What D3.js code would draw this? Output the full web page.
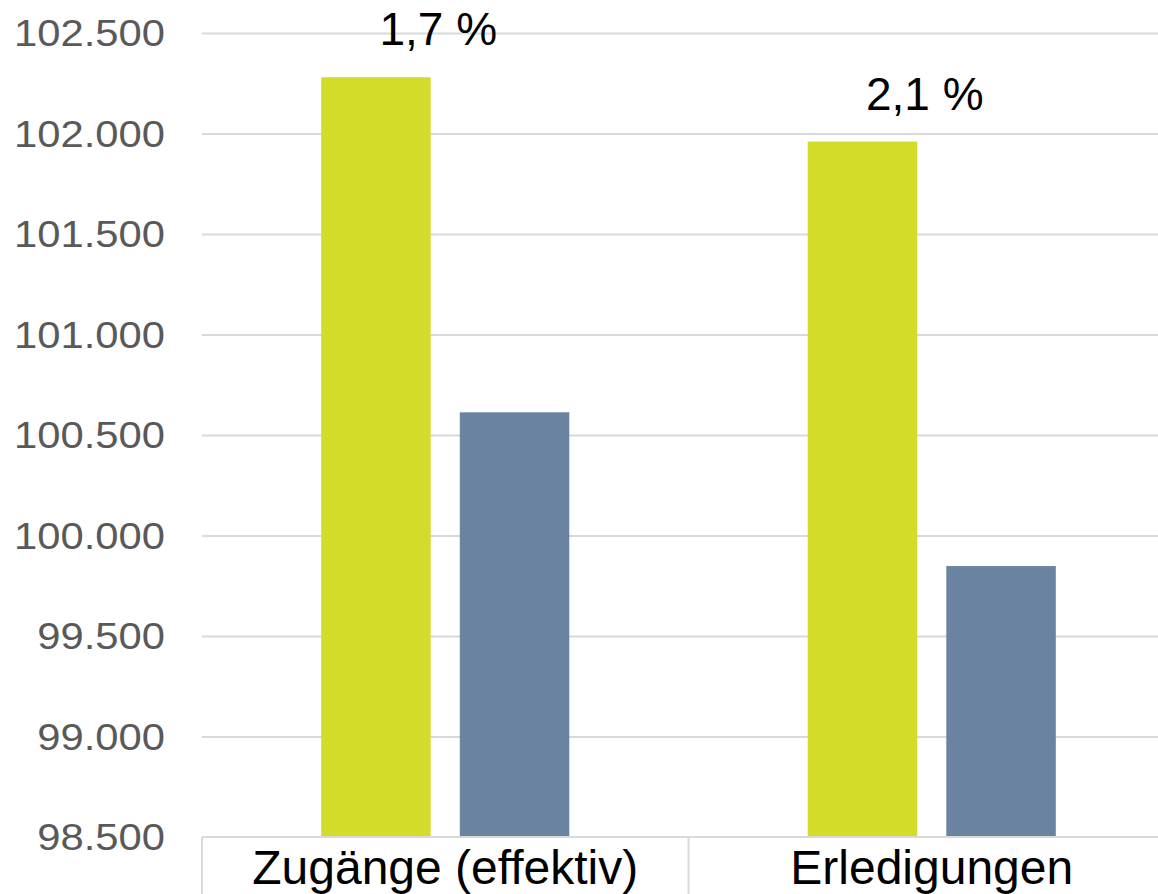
<!DOCTYPE html>
<meta charset="utf-8">
<style>
body { margin: 0; background: #fff; }
svg { display: block; font-family: "Liberation Sans", Arial, sans-serif; }
.grid line { stroke: #d9d9d9; stroke-width: 2; }
.grid path { stroke-width: 0; }
.yaxis text { fill: #595959; font-size: 36px; }
.yaxis path, .yaxis line { stroke: none; }
.xaxis path, .xaxis line { stroke: #d9d9d9; stroke-width: 2; }
.xaxis text { fill: #000; font-size: 48px; }
.pct { fill: #000; font-size: 46px; }
</style>
<body>
<script src="https://cdn.jsdelivr.net/npm/d3@7"></script>
<script>
// data
var categories = ["Zugänge (effektiv)", "Erledigungen"];
var series = ["current", "previous"];
var currentValues = [102280, 101960];
var previousValues = [100613, 99848];
var changeLabels = ["1,7 %", "2,1 %"];
var yTicks = [98500, 99000, 99500, 100000, 100500, 101000, 101500, 102000, 102500];
var colors = ["#d4dc2a", "#6983a0"];

var width = 1158, height = 894;
var margin = {top: 33, left: 202, bottom: 57};

var data = categories.map(function(c, i) {
  return {cat: c, values: [currentValues[i], previousValues[i]], label: changeLabels[i]};
});

var svg = d3.select("body").append("svg")
  .attr("width", width)
  .attr("height", height);

var y = d3.scaleLinear()
  .domain([98500, 102500])
  .range([height - margin.bottom, margin.top]);

// band for each category, the plot runs a bit past the right edge
var x0 = d3.scaleBand()
  .domain(categories)
  .range([margin.left, margin.left + 2 * 486.5]);

var x1 = d3.scaleBand()
  .domain(series)
  .range([0, x0.bandwidth()])
  .paddingInner(0.21)
  .paddingOuter(0.86);

var fmt = function(d) { return d3.format(",")(d).replace(/,/g, "."); };

// grid lines
svg.append("g")
  .attr("class", "grid")
  .attr("transform", "translate(" + margin.left + ",0)")
  .call(d3.axisLeft(y).tickValues(yTicks.slice(1))
    .tickSize(-(width - margin.left))
    .tickFormat(""));

// y labels (a bit wider than the font draws them)
svg.append("g")
  .attr("class", "yaxis")
  .attr("transform", "translate(165,0)")
  .call(d3.axisLeft(y).tickValues(yTicks).tickSize(0).tickPadding(0).tickFormat(fmt))
  .selectAll("text")
  .attr("dy", "0.36em")
  .attr("transform", "scale(1.16,1)");

// bars
var groups = svg.selectAll(".grp")
  .data(data)
  .enter().append("g")
  .attr("class", "grp")
  .attr("transform", function(d) { return "translate(" + x0(d.cat) + ",0)"; });

groups.selectAll("rect")
  .data(function(d) { return d.values.map(function(v, i) { return {s: series[i], v: v, i: i}; }); })
  .enter().append("rect")
  .attr("x", function(d) { return x1(d.s); })
  .attr("width", x1.bandwidth())
  .attr("y", function(d) { return y(d.v); })
  .attr("height", function(d) { return y(98500) - y(d.v); })
  .attr("fill", function(d) { return colors[d.i]; });

// percentage labels above the green bars
groups.append("text")
  .attr("class", "pct")
  .attr("x", x0.bandwidth() / 2 - 7)
  .attr("y", function(d) { return y(d.values[0]) - 32; })
  .attr("text-anchor", "middle")
  .text(function(d) { return d.label; });

// x axis with category separators
var xAxis = svg.append("g")
  .attr("class", "xaxis")
  .attr("transform", "translate(0," + (height - margin.bottom) + ")")
  .call(d3.axisBottom(x0).tickSize(0).tickPadding(0));
xAxis.select(".domain").attr("d", "M" + margin.left + ",0H" + width);
xAxis.selectAll("text").attr("y", 47).attr("dy", 0);

svg.append("g")
  .selectAll("line")
  .data(x0.range().concat([x0(categories[1])]))
  .enter().append("line")
  .attr("x1", function(d) { return d; })
  .attr("x2", function(d) { return d; })
  .attr("y1", height - margin.bottom)
  .attr("y2", height)
  .attr("stroke", "#d9d9d9")
  .attr("stroke-width", 2);
</script>
</body>
